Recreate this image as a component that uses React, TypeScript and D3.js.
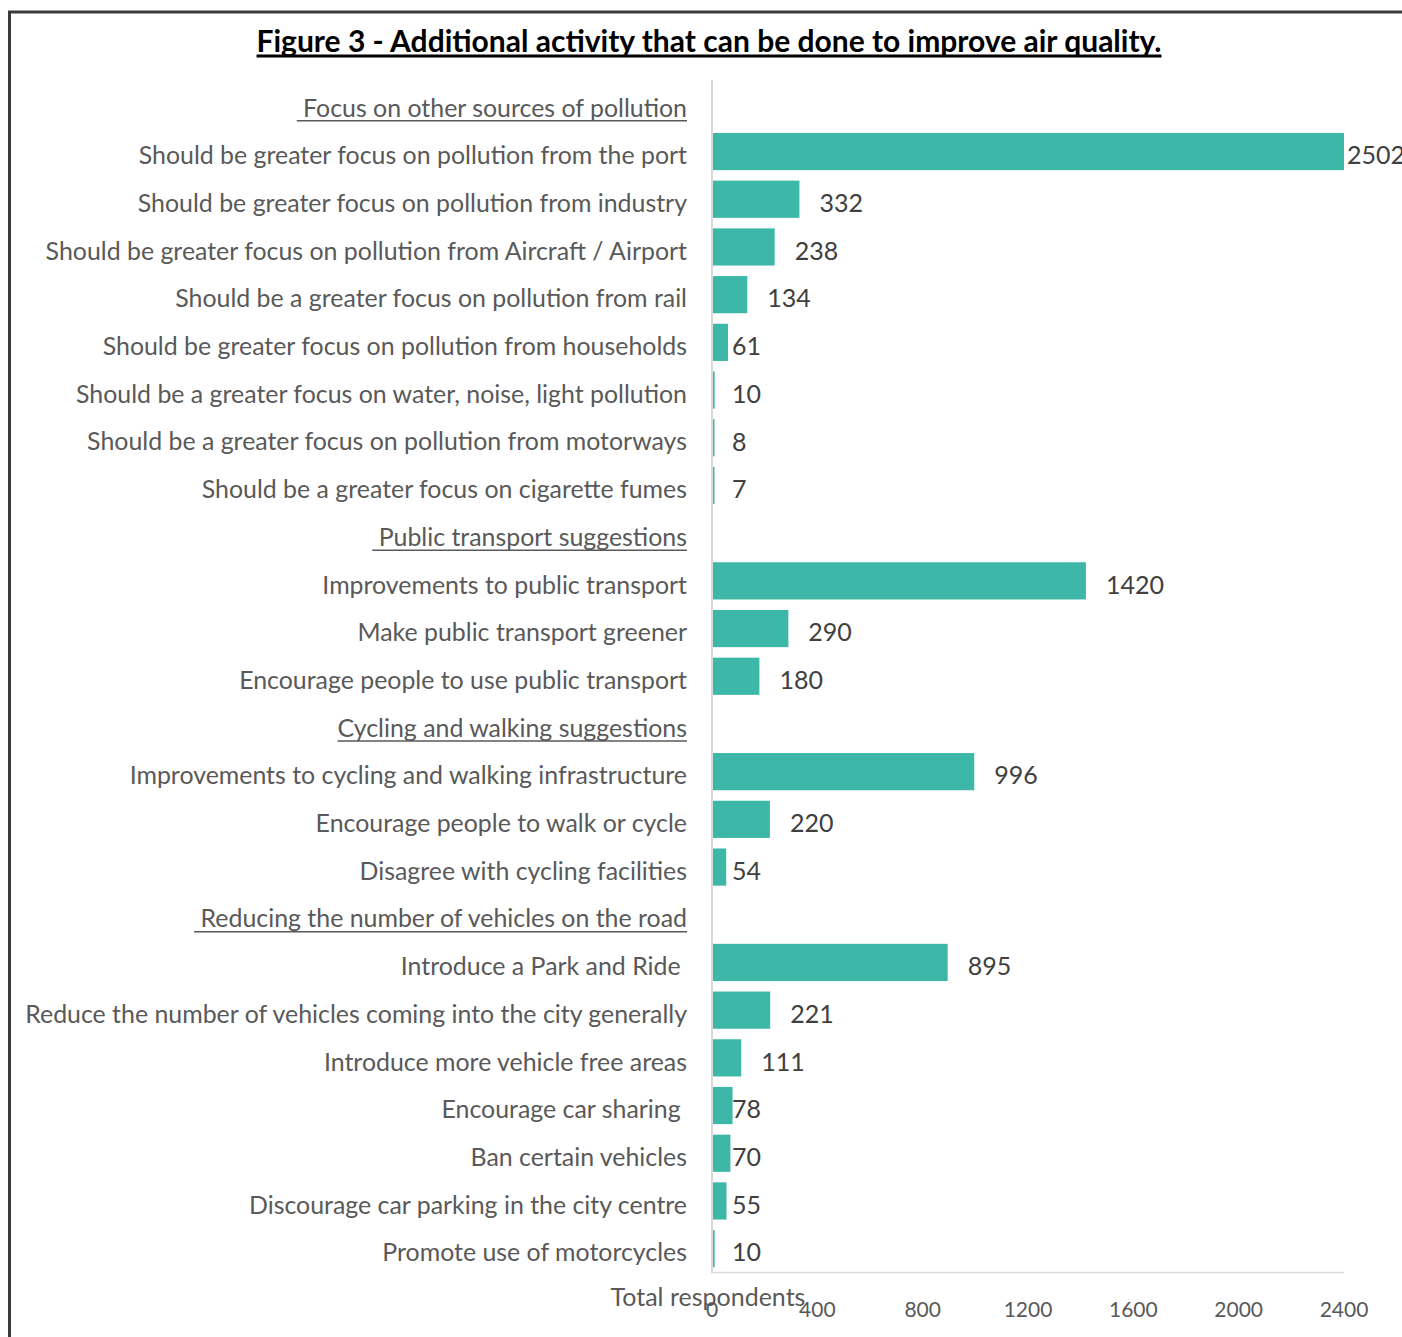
import React, { useEffect, useRef } from "react";
import * as d3 from "d3";

const title = "Figure 3 - Additional activity that can be done to improve air quality.";

const labels: string[] = [
  " Focus on other sources of pollution",
  "Should be greater focus on pollution from the port",
  "Should be greater focus on pollution from industry",
  "Should be greater focus on pollution from Aircraft / Airport",
  "Should be a greater focus on pollution from rail",
  "Should be greater focus on pollution from households",
  "Should be a greater focus on water, noise, light pollution",
  "Should be a greater focus on pollution from motorways",
  "Should be a greater focus on cigarette fumes",
  " Public transport suggestions",
  "Improvements to public transport",
  "Make public transport greener",
  "Encourage people to use public transport",
  "Cycling and walking suggestions",
  "Improvements to cycling and walking infrastructure",
  "Encourage people to walk or cycle",
  "Disagree with cycling facilities",
  " Reducing the number of vehicles on the road",
  "Introduce a Park and Ride ",
  "Reduce the number of vehicles coming into the city generally",
  "Introduce more vehicle free areas",
  "Encourage car sharing ",
  "Ban certain vehicles",
  "Discourage car parking in the city centre",
  "Promote use of motorcycles",
];

const values: (number | null)[] = [
  null, 2502, 332, 238, 134, 61, 10, 8, 7,
  null, 1420, 290, 180,
  null, 996, 220, 54,
  null, 895, 221, 111, 78, 70, 55, 10,
];

const xTicks = [0, 400, 800, 1200, 1600, 2000, 2400];
const axisTitle = "Total respondents";

const FONT = "Lato, 'Open Sans', sans-serif";

export default function App() {
  const ref = useRef<SVGSVGElement | null>(null);

  useEffect(() => {
    document.body.style.margin = "0";
    const svg = d3.select(ref.current);
    svg.selectAll("*").remove();

    const x = d3.scaleLinear().domain([0, 2400]).range([712, 1344]);
    const y = d3
      .scaleBand<number>()
      .domain(labels.map((_, i) => i))
      .range([80, 1272.5])
      .paddingInner(0.22)
      .paddingOuter(0.11);

    // frame
    svg
      .append("path")
      .attr("d", "M9.5,1337 L9.5,12 L1402,12")
      .attr("fill", "none")
      .attr("stroke", "#3a3a3a")
      .attr("stroke-width", 3);

    // title
    const t = svg
      .append("text")
      .attr("x", 709)
      .attr("y", 52)
      .attr("text-anchor", "middle")
      .attr("font-family", FONT)
      .attr("font-weight", "bold")
      .attr("font-size", 30)
      .attr("fill", "#000")
      .text(title);
    const tb = (t.node() as SVGTextElement).getBBox();
    svg
      .append("line")
      .attr("x1", tb.x)
      .attr("x2", tb.x + tb.width)
      .attr("y1", 56)
      .attr("y2", 56)
      .attr("stroke", "#000")
      .attr("stroke-width", 3);

    // bars
    const g = svg.append("g");
    labels.forEach((lab, i) => {
      const v = values[i];
      const cy = (y(i) as number) + y.bandwidth() / 2;
      const isHeader = v === null;
      const txt = g
        .append("text")
        .attr("x", 687)
        .attr("y", cy + 4)
        .attr("dy", "0.35em")
        .attr("text-anchor", "end")
        .attr("font-family", FONT)
        .attr("font-size", 24.9)
        .attr("fill", "#595959")
        .style("white-space", "pre")
        .text(lab);
      if (isHeader) {
        const bb = (txt.node() as SVGTextElement).getBBox();
        g.append("line")
          .attr("x1", bb.x)
          .attr("x2", bb.x + bb.width)
          .attr("y1", cy + 17)
          .attr("y2", cy + 17)
          .attr("stroke", "#595959")
          .attr("stroke-width", 1.5);
        return;
      }
      const vv = Math.min(v as number, 2400);
      const x0 = x(0) + 1;
      g.append("rect")
        .attr("x", x0)
        .attr("y", y(i) as number)
        .attr("width", Math.max(x(vv) - x0, 1.5))
        .attr("height", y.bandwidth())
        .attr("fill", "#3DB8A8");
      let lx: number;
      if ((v as number) > 2400) lx = x(vv) + 3;
      else if ((v as number) >= 100) lx = x(vv) + 20;
      else lx = x(0) + 20;
      g.append("text")
        .attr("x", lx)
        .attr("y", cy + 4)
        .attr("dy", "0.35em")
        .attr("font-family", FONT)
        .attr("font-size", 25)
        .attr("fill", "#404040")
        .text(String(v));
    });

    // axes lines
    svg
      .append("line")
      .attr("x1", 712)
      .attr("x2", 712)
      .attr("y1", 80)
      .attr("y2", 1273)
      .attr("stroke", "#D9D9D9")
      .attr("stroke-width", 2);
    svg
      .append("line")
      .attr("x1", 711)
      .attr("x2", x(2400))
      .attr("y1", 1272.5)
      .attr("y2", 1272.5)
      .attr("stroke", "#D9D9D9")
      .attr("stroke-width", 1.5);

    // tick labels
    xTicks.forEach((tv) => {
      svg
        .append("text")
        .attr("x", x(tv))
        .attr("y", 1310)
        .attr("dy", "0.35em")
        .attr("text-anchor", "middle")
        .attr("font-family", FONT)
        .attr("font-size", 21)
        .attr("fill", "#595959")
        .text(String(tv));
    });

    svg
      .append("text")
      .attr("x", 708)
      .attr("y", 1297)
      .attr("dy", "0.35em")
      .attr("text-anchor", "middle")
      .attr("font-family", FONT)
      .attr("font-size", 25)
      .attr("fill", "#595959")
      .text(axisTitle);
  }, []);

  return (
    <svg
      ref={ref}
      width={1402}
      height={1337}
      style={{ display: "block", background: "#fff" }}
    />
  );
}
